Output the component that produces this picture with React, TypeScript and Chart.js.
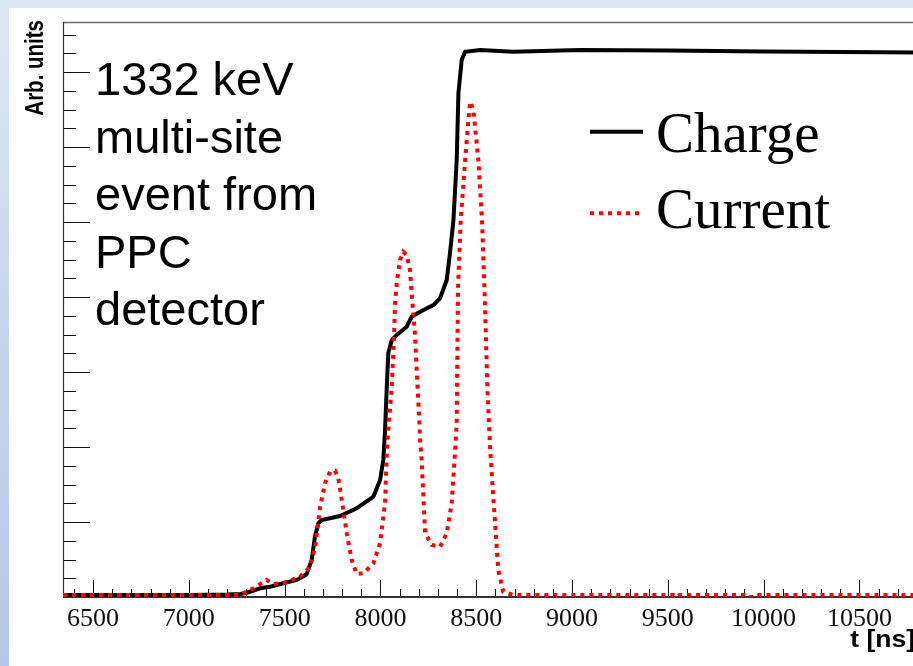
import React, { useEffect, useRef } from "react";
import { Chart, registerables } from "chart.js";

Chart.register(...registerables);

// Charge pulse (integrated signal), time in ns, amplitude in arbitrary units
const chargeTime = [
  6343, 6700, 7000, 7200, 7270, 7302, 7372, 7424, 7493, 7563, 7600, 7615, 7641, 7658,
  7676, 7693, 7789, 7876, 7963, 7998, 8015, 8024, 8033, 8041, 8059, 8085, 8137, 8163,
  8207, 8276, 8311, 8346, 8363, 8381, 8398, 8407, 8424, 8442, 8520, 8692, 9042, 9500,
  10000, 10811,
];
const chargeAmp = [
  2.7, 2.7, 2.7, 3.3, 4.0, 5.7, 11.6, 13.7, 18.3, 22.7, 28, 30.7, 49.3, 80.4,
  98.3, 102.7, 108, 118.3, 133.7, 156, 182.7, 222.7, 280.4, 325.3, 342.7, 349.3, 360.4, 373.7,
  380.4, 389.3, 398.3, 422.7, 458.7, 502.7, 582.7, 672, 716, 727, 729.3, 727, 729.3, 728.7,
  727.3, 726,
];

// Current pulse (derivative of the charge), same units
const currentTime = [
  6343, 7000, 7267, 7340, 7406, 7440, 7493, 7580, 7633, 7659, 7685, 7711, 7737, 7763,
  7780, 7798, 7824, 7850, 7876, 7911, 7963, 7998, 8024, 8033, 8041, 8059, 8071, 8076,
  8085, 8102, 8119, 8137, 8154, 8163, 8181, 8189, 8201, 8207, 8215, 8233, 8268, 8311,
  8346, 8372, 8389, 8398, 8405, 8419, 8442, 8459, 8468, 8485, 8511, 8530, 8545, 8558,
  8572, 8586, 8598, 8615, 8641, 8692, 9530, 9546, 9560, 9900, 9911, 9963, 9975, 10811,
];
const currentAmp = [
  2.7, 2.7, 2.7, 12, 22.7, 17.3, 18.7, 27, 40.4, 67, 120.4, 152, 167, 168.4,
  158.3, 129.3, 84.9, 49.3, 30.7, 31.6, 44.9, 72, 125.3, 192, 222.7, 280.4, 347, 392,
  418.3, 449.3, 460.4, 456, 436, 405, 347, 302.7, 245, 209.3, 182.7, 85.3, 69.3, 67,
  85, 125.3, 191.6, 232, 413, 502.7, 582.7, 636, 660.4, 649.3, 582.7, 502.7, 396, 280,
  200, 145, 100, 36, 7, 2.7, 2.7, 0, 2.7, 2.7, 0, 0, 2.7, 2.7,
];

const seriesNames = ["Charge", "Current"];
const xTickValues = [6500, 7000, 7500, 8000, 8500, 9000, 9500, 10000, 10500];
const annotationLines = ["1332 keV", "multi-site", "event from", "PPC", "detector"];
const xTitle = "t [ns]";
const yTitle = "Arb. units";

const X_MIN = 6343;
const X_MAX = 10811;
const Y_MIN = 0;
const Y_MAX = 766.7;

const SANS = "'Liberation Sans', Arial, Helvetica, sans-serif";
const SERIF = "'Liberation Serif', 'Times New Roman', serif";

// Frame, inward-pointing ticks, titles, legend and the text box
const decorations = {
  id: "rootStyleDecorations",
  beforeDatasetsDraw(chart: any) {
    const { ctx, chartArea: a, scales } = chart;
    const x = scales.x;
    const y = scales.y;
    ctx.save();
    ctx.strokeStyle = "#111";
    ctx.lineWidth = 1;
    // x ticks every 100 ns, long every 500 ns
    for (let i = Math.ceil(X_MIN / 100); i * 100 <= X_MAX; i++) {
      const t = i * 100;
      const px = Math.round(x.getPixelForValue(t)) + 0.5;
      const len = t % 500 === 0 ? 17 : 8;
      ctx.beginPath();
      ctx.moveTo(px, a.bottom);
      ctx.lineTo(px, a.bottom - len);
      ctx.stroke();
    }
    // y ticks every 25, long every 100
    for (let i = 1; i * 25 <= Y_MAX; i++) {
      const v = i * 25;
      const py = Math.round(y.getPixelForValue(v)) + 0.5;
      const len = v % 100 === 0 ? 27 : 13;
      ctx.beginPath();
      ctx.moveTo(a.left, py);
      ctx.lineTo(a.left + len, py);
      ctx.stroke();
    }
    // frame
    ctx.strokeStyle = "#6a6a6a";
    ctx.lineWidth = 1.5;
    ctx.beginPath();
    ctx.moveTo(a.left, a.top + 0.5);
    ctx.lineTo(a.right, a.top + 0.5);
    ctx.stroke();
    ctx.strokeStyle = "#333";
    ctx.lineWidth = 1.2;
    ctx.beginPath();
    ctx.moveTo(a.left + 0.5, a.top);
    ctx.lineTo(a.left + 0.5, a.bottom);
    ctx.stroke();
    ctx.lineWidth = 2;
    ctx.beginPath();
    ctx.moveTo(a.left, a.bottom);
    ctx.lineTo(a.right, a.bottom);
    ctx.stroke();
    ctx.restore();
  },
  afterDraw(chart: any) {
    const { ctx, chartArea: a } = chart;
    ctx.save();
    ctx.fillStyle = "#000";

    // x axis title, right-aligned near the end of the axis
    ctx.font = `bold 23px ${SANS}`;
    ctx.textAlign = "right";
    ctx.textBaseline = "alphabetic";
    ctx.save();
    ctx.translate(a.right - 4, 647);
    ctx.scale(1.15, 1);
    ctx.fillText(xTitle, 0, 0);
    ctx.restore();

    // y axis title, rotated, aligned at the top of the axis
    ctx.save();
    ctx.translate(43, a.top - 2);
    ctx.rotate(-Math.PI / 2);
    ctx.scale(1, 1.3);
    ctx.font = `bold 20.5px ${SANS}`;
    ctx.textAlign = "right";
    ctx.fillText(yTitle, 0, 0);
    ctx.restore();

    // event description
    ctx.font = `47px ${SANS}`;
    ctx.textAlign = "left";
    annotationLines.forEach((line, i) => {
      ctx.fillText(line, 95, 95 + i * 57.5);
    });

    // legend
    const ds = chart.data.datasets;
    const rows = [
      { y: 131.7, base: 151.7 },
      { y: 213.3, base: 228.3 },
    ];
    ds.forEach((d: any, i: number) => {
      ctx.save();
      ctx.strokeStyle = d.borderColor;
      ctx.lineWidth = d.borderWidth;
      ctx.setLineDash(d.borderDash || []);
      ctx.beginPath();
      ctx.moveTo(590, rows[i].y);
      ctx.lineTo(643, rows[i].y);
      ctx.stroke();
      ctx.restore();
      ctx.font = `57px ${SERIF}`;
      ctx.fillStyle = "#000";
      ctx.fillText(d.label, 656, rows[i].base);
    });
    ctx.restore();
  },
};

export default function App() {
  const canvasRef = useRef<HTMLCanvasElement | null>(null);

  useEffect(() => {
    const canvas = canvasRef.current;
    if (!canvas) return;
    const chart = new Chart(canvas, {
      type: "line",
      data: {
        datasets: [
          {
            label: seriesNames[0],
            data: chargeTime.map((t, i) => ({ x: t, y: chargeAmp[i] })),
            borderColor: "#000000",
            borderWidth: 4,
            pointRadius: 0,
            tension: 0,
            fill: false,
            order: 1,
          },
          {
            label: seriesNames[1],
            data: currentTime.map((t, i) => ({ x: t, y: currentAmp[i] })),
            borderColor: "#ff0000",
            borderWidth: 4,
            borderDash: [4, 5],
            pointRadius: 0,
            tension: 0,
            fill: false,
            order: 0,
          },
        ],
      },
      options: {
        animation: false,
        responsive: false,
        maintainAspectRatio: false,
        layout: { padding: { top: 22, right: 21, left: 0, bottom: 0 } },
        plugins: {
          legend: { display: false },
          tooltip: { enabled: false },
          title: { display: false },
        },
        scales: {
          x: {
            type: "linear",
            min: X_MIN,
            max: X_MAX,
            grid: { display: false },
            border: { display: false },
            afterBuildTicks: (scale: any) => {
              scale.ticks = xTickValues.map((v) => ({ value: v }));
            },
            afterFit: (scale: any) => {
              scale.height = 69;
            },
            ticks: {
              autoSkip: false,
              maxRotation: 0,
              padding: -1,
              color: "#111",
              font: { family: SERIF, size: 26 },
              callback: (v: any) => String(v),
            },
          },
          y: {
            type: "linear",
            min: Y_MIN,
            max: Y_MAX,
            grid: { display: false },
            border: { display: false },
            ticks: { display: false },
            afterFit: (scale: any) => {
              scale.width = 63;
            },
          },
        },
      },
      plugins: [decorations],
    });
    return () => chart.destroy();
  }, []);

  return (
    <div
      style={{
        position: "fixed",
        left: 0,
        top: 0,
        width: 913,
        height: 666,
        overflow: "hidden",
        background: "linear-gradient(to bottom, #dfe8f6 0%, #c6d5ed 50%, #b5c8e7 100%)",
      }}
    >
      <div
        style={{
          position: "absolute",
          left: 9,
          top: 8,
          width: 960,
          height: 700,
          background: "#ffffff",
        }}
      />
      <canvas
        ref={canvasRef}
        width={940}
        height={666}
        style={{ position: "absolute", left: 0, top: 0, width: 940, height: 666 }}
      />
    </div>
  );
}
